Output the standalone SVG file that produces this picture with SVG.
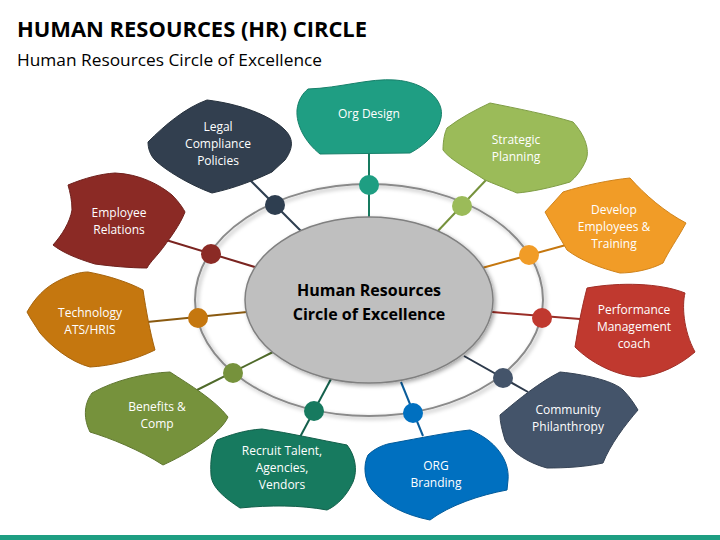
<svg xmlns="http://www.w3.org/2000/svg" width="720" height="540" viewBox="0 0 720 540">
<defs>
<filter id="sh" x="-20%" y="-20%" width="140%" height="140%">
<feDropShadow dx="2" dy="2" stdDeviation="2" flood-color="#000" flood-opacity="0.35"/>
</filter>
</defs>
<style>
.t{font-family:"Open Sans","Liberation Sans",sans-serif;font-size:12px;fill:#fff;text-anchor:middle}
.h1{font-family:"Open Sans","Liberation Sans",sans-serif;font-weight:bold;font-size:22px;fill:#000}
.h2{font-family:"Open Sans","Liberation Sans",sans-serif;font-size:16px;fill:#000}
.c{font-family:"Open Sans","Liberation Sans",sans-serif;font-weight:bold;font-size:16px;fill:#000;text-anchor:middle}
.ln{stroke-width:2;fill:none}
</style>
<rect x="0" y="0" width="720" height="540" fill="#fff"/>
<text class="h1" x="17" y="37" textLength="350" lengthAdjust="spacingAndGlyphs">HUMAN RESOURCES (HR) CIRCLE</text>
<text class="h2" x="17" y="66" textLength="305" lengthAdjust="spacingAndGlyphs">Human Resources Circle of Excellence</text>
<rect x="0" y="535" width="720" height="5" fill="#1e9e82"/>

<g id="ring">
<ellipse cx="369" cy="300" rx="174" ry="116" fill="none" stroke="#8a8a8a" stroke-width="2" filter="url(#sh)"/>
</g>

<g id="connectors">
<line class="ln" stroke="#177a5f" x1="369" y1="150" x2="369" y2="220"/>
<line class="ln" stroke="#2e3e50" x1="248" y1="178" x2="303" y2="233"/>
<line class="ln" stroke="#76923c" x1="486" y1="180" x2="436" y2="233"/>
<line class="ln" stroke="#c5770f" x1="566" y1="245" x2="482" y2="268"/>
<line class="ln" stroke="#7a2420" x1="166" y1="240" x2="258" y2="268"/>
<line class="ln" stroke="#8a5a10" x1="147" y1="322" x2="247" y2="312"/>
<line class="ln" stroke="#9a2e27" x1="580" y1="319" x2="492" y2="312"/>
<line class="ln" stroke="#4f6a2a" x1="197" y1="390" x2="273" y2="352"/>
<line class="ln" stroke="#14604c" x1="300" y1="437" x2="331" y2="379"/>
<line class="ln" stroke="#0a5c9a" x1="423" y1="436" x2="401" y2="382"/>
<line class="ln" stroke="#2e3b4c" x1="528" y1="392" x2="464" y2="356"/>
<circle cx="369" cy="185" r="10" fill="#1e9e82"/>
<circle cx="275" cy="205" r="10" fill="#2e3e50"/>
<circle cx="462" cy="206" r="10" fill="#9bbb59"/>
<circle cx="211" cy="254" r="10" fill="#8b2a25"/>
<circle cx="529" cy="255" r="10" fill="#f19c27"/>
<circle cx="198" cy="318" r="10" fill="#c5770f"/>
<circle cx="542" cy="318" r="10" fill="#c0392f"/>
<circle cx="233" cy="373" r="10" fill="#76923c"/>
<circle cx="503" cy="378" r="10" fill="#44546a"/>
<circle cx="314" cy="411" r="10" fill="#177a5f"/>
<circle cx="413" cy="413" r="10" fill="#0070c0"/>
</g>

<g id="center">
<ellipse cx="369" cy="300" rx="124" ry="83" fill="#bfbfbf" stroke="#808080" stroke-width="1.5" filter="url(#sh)"/>
<text class="c" x="369" y="296">Human Resources</text>
<text class="c" x="369" y="320">Circle of Excellence</text>
</g>

<g id="org-design">
<path d="M308,89 C340,88 370,78 395,80 C425,82 445,100 441,118 C438,135 420,148 410,153 L320,154 C305,142 296,125 297,110 C298,100 303,93 308,89 Z" fill="#1f9e83" stroke="#17806a"/>
<text class="t" x="369" y="118">Org Design</text>
</g>

<g id="legal">
<path d="M148,142 C165,125 185,108 207,100 C240,104 270,115 285,130 C295,140 292,150 285,160 L272,172 C255,180 235,188 212,193 C190,185 165,170 155,160 C150,155 148,148 148,142 Z" fill="#323f4f" stroke="#26313d"/>
<text class="t" x="218" y="131">Legal</text>
<text class="t" x="218" y="148">Compliance</text>
<text class="t" x="218" y="165">Policies</text>
</g>

<g id="strategic">
<path d="M490,103 C515,108 550,115 573,122 C585,135 590,150 586,160 C582,170 575,178 570,182 C550,188 530,192 517,193 C505,188 492,183 485,180 C470,170 450,160 443,150 C443,140 445,132 447,128 C460,118 475,110 490,103 Z" fill="#9bbb59" stroke="#7f9d45"/>
<text class="t" x="516" y="144">Strategic</text>
<text class="t" x="516" y="161">Planning</text>
</g>

<g id="develop">
<path d="M545,212 L563,192 C585,185 610,180 630,178 C645,195 665,212 686,223 C678,238 668,252 663,263 C650,270 632,273 620,273 C600,268 580,260 567,250 C560,238 552,225 545,212 Z" fill="#f19c27" stroke="#d0831a"/>
<text class="t" x="614" y="214">Develop</text>
<text class="t" x="614" y="231">Employees &amp;</text>
<text class="t" x="614" y="248">Training</text>
</g>

<g id="employee-relations">
<path d="M68,185 C85,178 100,174 115,173 C140,174 160,185 172,195 C180,203 184,210 185,212 C180,225 170,238 165,245 C158,255 150,262 147,268 C130,268 110,266 95,264 C75,258 62,252 53,245 C62,235 70,222 72,210 C72,200 70,192 68,185 Z" fill="#8b2a25" stroke="#6f201c"/>
<text class="t" x="119" y="217">Employee</text>
<text class="t" x="119" y="234">Relations</text>
</g>

<g id="technology">
<path d="M27,312 C35,298 45,287 60,280 C70,275 80,272 88,272 C110,276 130,283 143,290 C146,310 150,332 155,350 C135,360 110,366 90,367 C70,362 50,345 40,333 C35,325 30,318 27,312 Z" fill="#c5770f" stroke="#a5630c"/>
<text class="t" x="90" y="317">Technology</text>
<text class="t" x="90" y="334">ATS/HRIS</text>
</g>

<g id="performance">
<path d="M587,288 C620,282 660,283 685,293 C682,305 683,330 695,352 C680,365 660,375 640,377 C615,376 590,362 575,347 C578,330 580,315 587,288 Z" fill="#c0392f" stroke="#a02e26"/>
<text class="t" x="634" y="314">Performance</text>
<text class="t" x="634" y="331">Management</text>
<text class="t" x="634" y="348">coach</text>
</g>

<g id="benefits">
<path d="M92,393 C115,380 145,373 170,372 C190,385 215,400 228,417 C220,435 185,455 163,465 C140,450 110,438 90,432 C84,420 83,405 92,393 Z" fill="#76923c" stroke="#5f7630"/>
<text class="t" x="157" y="411">Benefits &amp;</text>
<text class="t" x="157" y="428">Comp</text>
</g>

<g id="community">
<path d="M500,415 C520,398 540,382 560,372 C590,375 615,382 623,390 C630,397 635,405 638,410 C625,425 610,445 603,463 C585,467 565,468 547,468 C525,462 510,450 505,440 C502,430 500,422 500,415 Z" fill="#44546a" stroke="#364355"/>
<text class="t" x="568" y="414">Community</text>
<text class="t" x="568" y="431">Philanthropy</text>
</g>

<g id="recruit">
<path d="M217,440 C230,435 245,430 262,429 C290,433 320,440 347,445 C355,455 358,470 353,482 C347,495 338,505 327,510 C300,505 270,505 240,508 C225,498 212,488 211,475 C210,460 212,448 217,440 Z" fill="#177a5f" stroke="#125f4a"/>
<text class="t" x="282" y="455">Recruit Talent,</text>
<text class="t" x="282" y="472">Agencies,</text>
<text class="t" x="282" y="489">Vendors</text>
</g>

<g id="org-branding">
<path d="M393,443 C420,438 450,432 470,430 C495,440 510,460 508,480 L507,490 C480,495 450,505 430,520 C405,515 385,505 372,490 C364,480 363,465 368,455 C375,448 385,444 393,443 Z" fill="#0070c0" stroke="#005a9a"/>
<text class="t" x="436" y="470">ORG</text>
<text class="t" x="436" y="487">Branding</text>
</g>
</svg>
